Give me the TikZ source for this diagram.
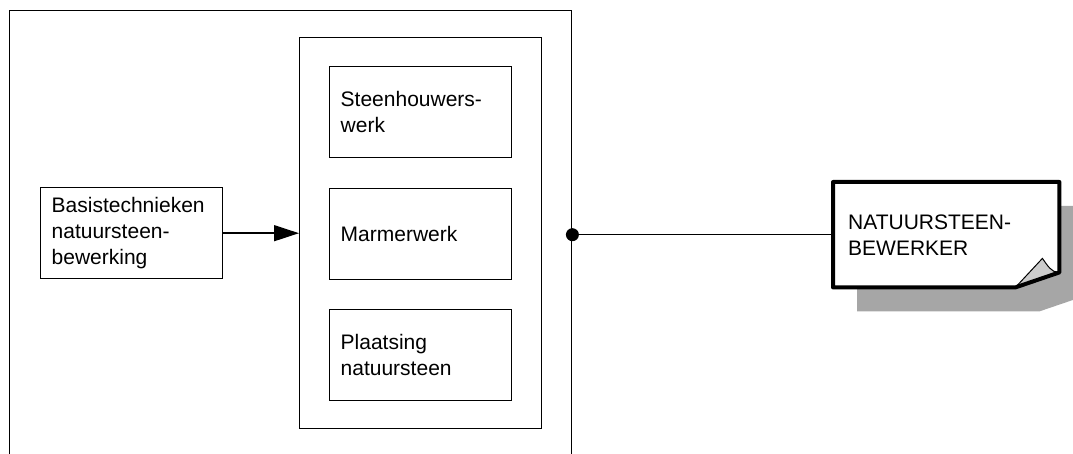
\documentclass[tikz,border=0pt]{standalone}
\usepackage{fontspec}
\setmainfont{Liberation Sans}
\usetikzlibrary{arrows.meta}
\tikzset{
  frm/.style={draw, line width=1.4pt, rectangle, inner sep=0pt},
  txtbox/.style={draw, line width=1.4pt, rectangle, minimum width=182pt, minimum height=91pt,
    text width=160pt, inner xsep=11pt, inner ysep=0pt, align=left,
    font=\fontsize{21}{26}\selectfont, anchor=north west},
  conn/.style={line width=1.4pt},
}
\begin{document}
\begin{tikzpicture}[x=1pt,y=-1pt]
\useasboundingbox (0,0) rectangle (1073,454);
\clip (0,0) rectangle (1073,454);
% outer frame (open at bottom)
\node[frm, minimum width=562pt, minimum height=480pt, anchor=north west] (outer) at (9,10) {};
% inner frame
\node[frm, minimum width=242pt, minimum height=391pt, anchor=north west] (frame) at (299,37) {};
% boxes
\node[txtbox] (basis) at (40,187) {Basistechnieken\\natuursteen-\\bewerking};
\node[txtbox] (steen) at (329,66) {Steenhouwers-\\werk};
\node[txtbox] (marmer) at (329,188) {Marmerwerk};
\node[txtbox] (plaats) at (329,309) {Plaatsing\\natuursteen};
% note
\node[minimum width=226pt, minimum height=105pt, inner sep=0pt, anchor=north west] (note) at (833,182) {};
\fill[gray!70] ([shift={(24,24)}]note.north west) -- ([shift={(24,24)}]note.north east)
  -- ([shift={(24,9)}]note.south east) -- ([shift={(-20,24)}]note.south east)
  -- ([shift={(24,24)}]note.south west) -- cycle;
\fill[white]
  (note.north west) -- (note.north east) -- ([shift={(0,-15)}]note.south east)
  -- ([xshift=-44]note.south east) -- (note.south west) -- cycle;
\filldraw[fill=gray!40, draw=black, line width=1pt]
  ([xshift=-44]note.south east) -- ([shift={(-17,-29)}]note.south east)
  .. controls ([shift={(-12,-22)}]note.south east) and ([shift={(-8,-15)}]note.south east)
  .. ([shift={(-1,-15)}]note.south east) -- cycle;
\draw[line width=4pt, line join=round]
  (note.north west) -- (note.north east) -- ([shift={(0,-15)}]note.south east)
  -- ([xshift=-44]note.south east) -- (note.south west) -- cycle;
\node[text width=200pt, inner sep=0pt, align=left, font=\fontsize{21}{26}\selectfont,
  anchor=west] (notetext) at ([xshift=15]note.west) {NATUURSTEEN-\\BEWERKER};
% connectors
\draw[conn, -{Triangle[length=25pt, width=16pt]}] (basis.east) -- (basis.east -| frame.west);
\coordinate (dot) at (note.west -| outer.east);
\fill (dot) circle (6.5pt);
\draw[conn] (dot) -- (note.west);
\end{tikzpicture}
\end{document}
